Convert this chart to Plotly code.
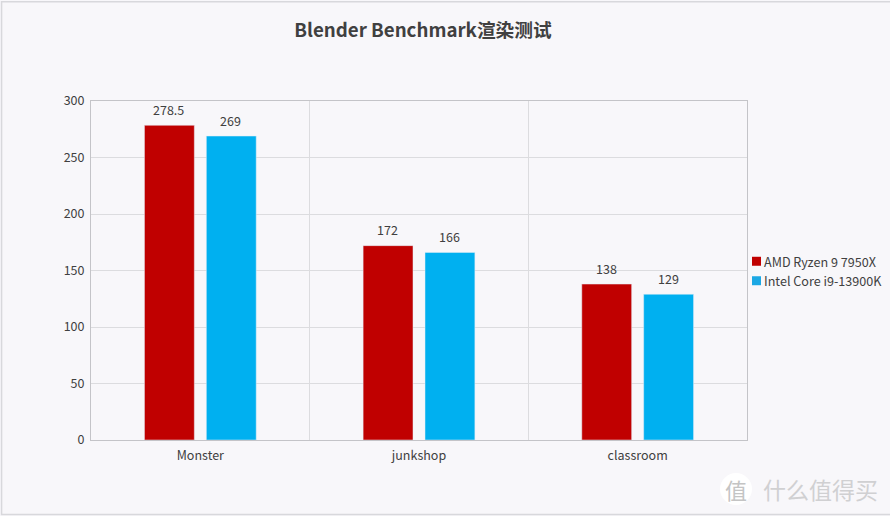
import plotly.graph_objects as go

categories = ["Monster", "junkshop", "classroom"]
amd_values = [278.5, 172, 138]
intel_values = [269, 166, 129]
amd_name = "AMD Ryzen 9 7950X"
intel_name = "Intel Core i9-13900K"
title_text = "Blender Benchmark渲染测试"
y_ticks = [0, 50, 100, 150, 200, 250, 300]

W, H = 890, 516
L, R, T, B = 90.5, 747, 100.5, 440
FONT = "'Noto Sans CJK SC', 'Open Sans', sans-serif"
TXT = "#404040"
GRID = "#dcdcdf"
AXIS = "#c4c4c8"
AMD_C, INTEL_C = "#C00000", "#00B0F0"

def px(x):
    return (x - L) / (R - L)

def py(y):
    return (B - y) / (B - T)

fig = go.Figure()
fig.add_bar(name=amd_name, x=categories, y=amd_values, marker_color=AMD_C, showlegend=False)
fig.add_bar(name=intel_name, x=categories, y=intel_values, marker_color=INTEL_C, showlegend=False)

annotations = []
for values, shift in ((amd_values, -31), (intel_values, 31)):
    for c, v in zip(categories, values):
        annotations.append(dict(text=str(v), x=c, y=v, xref="x", yref="y", xshift=shift - 0.5, yshift=16,
                                showarrow=False, xanchor="center", yanchor="middle",
                                font=dict(size=12.5, color=TXT)))
for name, y in ((amd_name, 261), (intel_name, 280.5)):
    annotations.append(dict(text=name, xref="paper", yref="paper", x=px(762.5), y=py(y), showarrow=False,
                            xanchor="left", yanchor="middle", font=dict(size=12.6, color=TXT)))
annotations += [
    dict(text="值", xref="paper", yref="paper", x=px(736), y=py(489), showarrow=False,
         font=dict(size=22, color="#c4c4c4"), xanchor="center", yanchor="middle"),
    dict(text="什么值得买", xref="paper", yref="paper", x=px(821), y=py(489), showarrow=False,
         font=dict(size=23, color="#d0d0d2"), xanchor="center", yanchor="middle"),
]

fig.update_layout(
    width=W, height=H, autosize=False,
    margin=dict(l=L, r=W - R, t=T, b=H - B, pad=0),
    paper_bgcolor="#F8F7FA", plot_bgcolor="#F8F7FA",
    font=dict(family=FONT, size=12, color=TXT),
    barmode="group", bargap=0.434, bargroupgap=0.194,
    title=dict(text=title_text, x=423 / W, xanchor="center", y=1 - 30 / H, yanchor="middle",
               font=dict(size=18.7, color="#404040", weight="bold")),
    xaxis=dict(type="category", tickson="boundaries", showgrid=True,
               gridcolor=GRID, gridwidth=1, ticks="", ticklabelstandoff=4,
               showline=True, linecolor=AXIS, linewidth=1, mirror=True, zeroline=False,
               tickfont=dict(size=12.5, color=TXT)),
    yaxis=dict(range=[0, 300], tickvals=y_ticks, showgrid=True, gridcolor=GRID,
               gridwidth=1, ticks="", ticklabelstandoff=3, showline=True,
               linecolor=AXIS, linewidth=1, mirror=True, zeroline=False,
               tickfont=dict(size=12.5, color=TXT)),
    shapes=[
        dict(type="rect", xref="paper", yref="paper", x0=px(1), x1=px(W + 4), y0=py(514.5), y1=py(1),
             line=dict(color="#d8d8dc", width=1.5), fillcolor="rgba(0,0,0,0)", layer="below"),
        dict(type="rect", xref="paper", yref="paper", x0=px(752), x1=px(761), y0=py(265.5), y1=py(256.5),
             fillcolor=AMD_C, line=dict(width=0)),
        dict(type="rect", xref="paper", yref="paper", x0=px(752), x1=px(761), y0=py(285), y1=py(276),
             fillcolor="#1CA8E4", line=dict(width=0)),
        dict(type="circle", xref="paper", yref="paper", x0=px(720), x1=px(752), y0=py(505), y1=py(473),
             fillcolor="#ffffff", line=dict(width=0), layer="above"),
    ],
    annotations=annotations,
)
fig.write_html("out.html", config=dict(displayModeBar=False),
               post_script="document.body.style.margin='0';")
